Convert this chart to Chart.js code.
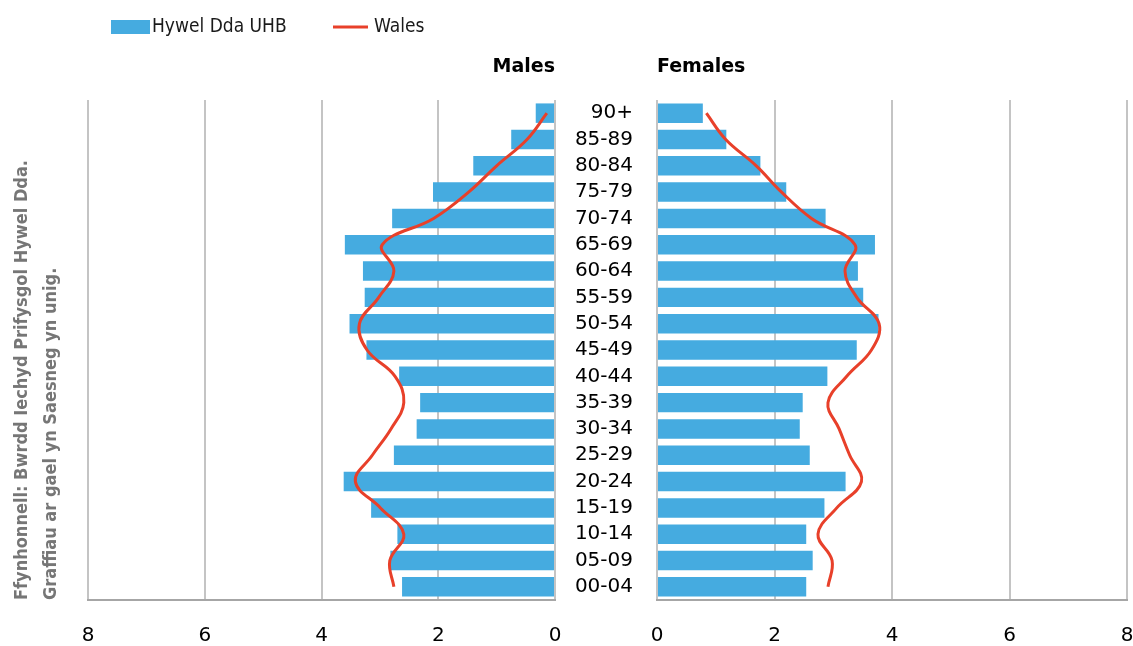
<!DOCTYPE html>
<html>
<head>
<meta charset="utf-8">
<script src="https://cdn.jsdelivr.net/npm/chart.js@4.4.1/dist/chart.umd.min.js"></script>
<style>
  html, body { margin: 0; padding: 0; background: #ffffff; }
  #wrap { position: relative; width: 1133px; height: 646px; overflow: hidden; }
  #maleBox { position: absolute; left: 0; top: 0; width: 576px; height: 646px; }
  #femaleBox { position: absolute; left: 556px; top: 0; width: 577px; height: 646px; }
  .source {
    position: absolute; left: 6px; top: 600px;
    transform: rotate(-90deg); transform-origin: left top;
    white-space: nowrap;
    font: bold 18px/29px 'DejaVu Sans Condensed', 'DejaVu Sans', sans-serif;
    color: #767676;
  }
</style>
</head>
<body>
<div id="wrap">
  <div id="maleBox"><canvas id="males" width="576" height="646"></canvas></div>
  <div id="femaleBox"><canvas id="females" width="577" height="646"></canvas></div>
  <div class="source">Ffynhonnell: Bwrdd Iechyd Prifysgol Hywel Dda.<br>Graffiau ar gael yn Saesneg yn unig.</div>
</div>
<script>
// Age bands, oldest at the top
const ageGroups = ['90+', '85-89', '80-84', '75-79', '70-74', '65-69', '60-64', '55-59', '50-54',
  '45-49', '40-44', '35-39', '30-34', '25-29', '20-24', '15-19', '10-14', '05-09', '00-04'];

// Share of population (%) by age band
const malesHywelDda   = [0.33, 0.75, 1.40, 2.09, 2.79, 3.60, 3.29, 3.26, 3.52, 3.23, 2.67, 2.31, 2.37, 2.76, 3.62, 3.15, 2.70, 2.82, 2.62];
const malesWales      = [0.14, 0.48, 1.00, 1.48, 2.08, 2.96, 2.76, 3.02, 3.35, 3.22, 2.74, 2.59, 2.81, 3.13, 3.42, 2.99, 2.59, 2.83, 2.76];
const femalesHywelDda = [0.78, 1.18, 1.76, 2.20, 2.87, 3.71, 3.42, 3.51, 3.77, 3.40, 2.90, 2.48, 2.43, 2.60, 3.21, 2.85, 2.54, 2.65, 2.54];
const femalesWales    = [0.84, 1.17, 1.69, 2.12, 2.63, 3.37, 3.20, 3.40, 3.78, 3.65, 3.23, 2.91, 3.10, 3.28, 3.48, 3.06, 2.74, 2.98, 2.91];

const axisTicks = [0, 2, 4, 6, 8];

const BLUE = '#45ABE0';
const RED = '#E8402A';

Chart.defaults.font.family = "'DejaVu Sans', Verdana, sans-serif";
Chart.defaults.color = '#000000';

// Legend row drawn above the male panel
const legendRow = {
  id: 'legendRow',
  afterDraw(chart, args, opts) {
    if (!opts.items) return;
    const ctx = chart.ctx;
    ctx.save();
    ctx.font = opts.font;
    ctx.textBaseline = 'middle';
    chart.data.datasets.forEach((ds, i) => {
      const item = opts.items[i];
      if (ds.type === 'line') {
        ctx.strokeStyle = ds.borderColor;
        ctx.lineWidth = ds.borderWidth;
        ctx.beginPath();
        ctx.moveTo(item.x, opts.y);
        ctx.lineTo(item.x + item.w, opts.y);
        ctx.stroke();
      } else {
        ctx.fillStyle = ds.backgroundColor;
        ctx.fillRect(item.x, opts.y - 7, item.w, 14);
      }
      ctx.fillStyle = opts.color;
      ctx.fillText(ds.label, item.x + item.w + item.gap, opts.y);
    });
    ctx.restore();
  }
};

function makeDatasets(barValues, lineValues) {
  return [
    {
      type: 'bar',
      label: 'Hywel Dda UHB',
      data: barValues,
      backgroundColor: BLUE,
      borderWidth: 0,
      barPercentage: 0.74,
      categoryPercentage: 1,
      order: 2
    },
    {
      type: 'line',
      label: 'Wales',
      data: lineValues,
      indexAxis: 'y',
      borderColor: RED,
      borderWidth: 3,
      pointRadius: 0,
      pointHoverRadius: 0,
      tension: 0.4,
      fill: false,
      order: 1
    }
  ];
}

function xScale(reverse) {
  return {
    type: 'linear',
    reverse: reverse,
    min: 0,
    max: 8,
    afterBuildTicks: s => { s.ticks = axisTicks.map(v => ({ value: v })); },
    afterFit: s => { s.height = 46; s.paddingLeft = 0; s.paddingRight = 0; },
    grid: { color: '#c4c4c4', lineWidth: 2, drawTicks: false },
    border: { display: true, color: '#a6a6a6', width: 2 },
    ticks: { padding: 24, font: { size: 20 }, color: '#000000' }
  };
}

const titleOpts = (text, align) => ({
  display: true,
  text: text,
  align: align,
  fullSize: false,
  color: '#000000',
  font: { size: 19, weight: 'bold' },
  padding: { top: 0, bottom: 21.6 }
});

new Chart(document.getElementById('males'), {
  type: 'bar',
  data: { labels: ageGroups, datasets: makeDatasets(malesHywelDda, malesWales) },
  plugins: [legendRow],
  options: {
    indexAxis: 'y',
    responsive: false,
    animation: false,
    layout: { padding: { top: 55.6, left: 88, right: 21, bottom: 0 } },
    scales: {
      x: xScale(true),
      y: {
        display: false,
        afterFit: s => { s.paddingTop = 0; s.paddingBottom = 0; }
      }
    },
    plugins: {
      legend: { display: false },
      tooltip: { enabled: false },
      title: titleOpts('Males', 'end'),
      legendRow: {
        y: 27,
        font: "19px 'DejaVu Sans Condensed', 'DejaVu Sans', sans-serif",
        color: '#1a1a1a',
        items: [{ x: 111, w: 39, gap: 2 }, { x: 333, w: 35, gap: 6 }]
      }
    }
  }
});

new Chart(document.getElementById('females'), {
  type: 'bar',
  data: { labels: ageGroups, datasets: makeDatasets(femalesHywelDda, femalesWales) },
  options: {
    indexAxis: 'y',
    responsive: false,
    animation: false,
    layout: { padding: { top: 55.6, left: 0, right: 6, bottom: 0 } },
    scales: {
      x: xScale(false),
      y: {
        position: 'left',
        afterFit: s => { s.width = 101; s.paddingTop = 0; s.paddingBottom = 0; },
        grid: { display: false, drawTicks: false },
        border: { display: false },
        ticks: { padding: 24, font: { size: 20 }, color: '#000000', crossAlign: 'near', autoSkip: false }
      }
    },
    plugins: {
      legend: { display: false },
      tooltip: { enabled: false },
      title: titleOpts('Females', 'start')
    }
  }
});
</script>
</body>
</html>
